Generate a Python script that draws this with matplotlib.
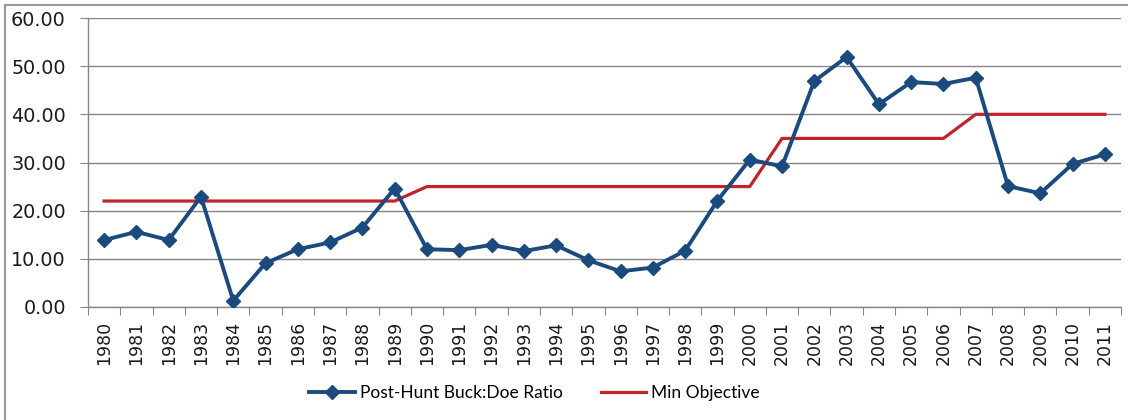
# Post-hunt buck:doe ratio vs. minimum objective, 1980-2011
import numpy as np
import matplotlib
matplotlib.use("Agg")
import matplotlib.pyplot as plt
from matplotlib.lines import Line2D

# Data
years = [str(y) for y in range(1980, 2012)]
buck_doe = [13.9, 15.6, 13.9, 22.9, 1.3, 9.1, 12.0, 13.4, 16.5, 24.6,
            12.0, 11.8, 12.9, 11.6, 12.8, 9.7, 7.4, 8.2, 11.7, 22.1,
            30.6, 29.2, 46.9, 51.9, 42.1, 46.7, 46.3, 47.6, 25.1, 23.6,
            29.7, 31.7]
min_objective = [22] * 10 + [25] * 11 + [35] * 6 + [40] * 5
yticks = [0, 10, 20, 30, 40, 50, 60]

blue = "#1B4A7E"
red = "#C0232B"
grey = "#868686"

fig = plt.figure(figsize=(11.28, 4.20), dpi=100)
ax = fig.add_axes([88 / 1128, 1 - 307 / 420, (1121 - 88) / 1128, (307 - 18) / 420])

x = np.arange(len(years))
ax.plot(x, buck_doe, color=blue, linewidth=2.8, marker="D", markersize=7,
        label="Post-Hunt Buck:Doe Ratio", zorder=3)
ax.plot(x, min_objective, color=red, linewidth=2.3, label="Min Objective", zorder=2)

ax.set_xlim(-0.5, len(years) - 0.5)
ax.set_ylim(0, 60)
ax.set_yticks(yticks)
ax.set_yticklabels([f"{v:.2f}" for v in yticks], fontsize=13.8, color="#1a1a1a")
ax.yaxis.grid(True, color=grey, linewidth=1.0)
ax.set_axisbelow(True)

# category boundaries as major ticks, labels on minor ticks
ax.set_xticks(np.arange(len(years) + 1) - 0.5)
ax.set_xticklabels([])
ax.set_xticks(x, minor=True)
ax.set_xticklabels(years, minor=True, rotation=90, fontsize=12.5, color="#1a1a1a")
ax.tick_params(axis="x", which="major", length=6, color=grey, direction="out")
ax.tick_params(axis="x", which="minor", length=0, pad=10)
ax.tick_params(axis="y", length=6, color=grey, pad=10)

for s in ["top", "right"]:
    ax.spines[s].set_visible(False)
for s in ["left", "bottom"]:
    ax.spines[s].set_color(grey)
    ax.spines[s].set_linewidth(1.0)

fig.legend(loc="center", bbox_to_anchor=(0.474, 0.065), ncol=2, frameon=False,
           prop={"family": "Lato", "size": 12.5}, handlelength=2.6,
           handletextpad=0.3, columnspacing=2.2)

# outer chart frame (partially cropped in the reference)
fig.add_artist(Line2D([5 / 1128, 5 / 1128], [0, 1 - 5 / 420], color="#9a9a9a", linewidth=1.5))
fig.add_artist(Line2D([5 / 1128, 1], [1 - 5 / 420, 1 - 5 / 420], color="#9a9a9a", linewidth=1.5))

fig.savefig("out.png", dpi=100)
